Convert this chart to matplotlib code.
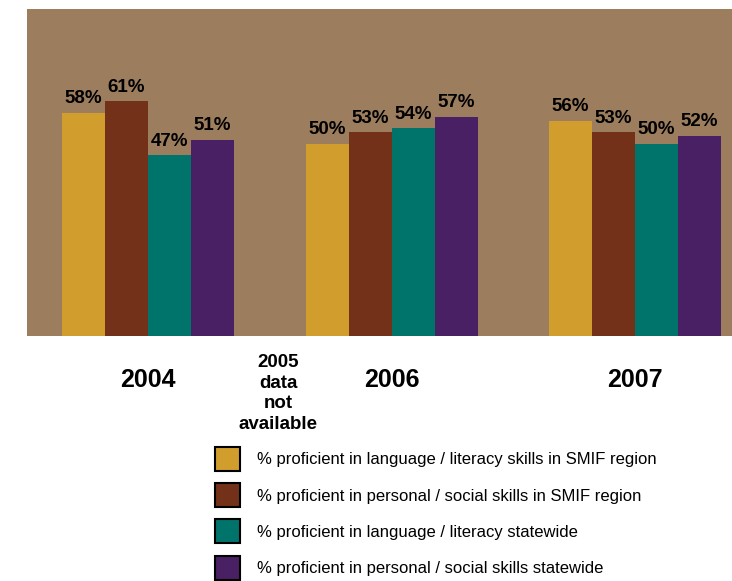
import numpy as np
import matplotlib.pyplot as plt
from matplotlib.patches import Patch

plt.rcParams['font.family'] = ['Liberation Sans', 'DejaVu Sans']

# data
years = ["2004", "2006", "2007"]
series_names = [
    "% proficient in language / literacy skills in SMIF region",
    "% proficient in personal / social skills in SMIF region",
    "% proficient in language / literacy statewide",
    "% proficient in personal / social skills statewide",
]
lang_smif = [58, 50, 56]
pers_smif = [61, 53, 53]
lang_state = [47, 54, 50]
pers_state = [51, 57, 52]
series = [lang_smif, pers_smif, lang_state, pers_state]
colors = ["#D19E2D", "#74311A", "#00736A", "#4A2064"]

fig = plt.figure(figsize=(7.32, 5.81), dpi=100)
ax = fig.add_axes([0.0369, 0.4217, 0.9631, 0.5628])
ax.set_facecolor("#9C7D5E")

x = np.arange(len(years))
w = 0.1766
for i, vals in enumerate(series):
    bars = ax.bar(x + (i - 1.5) * w, vals, width=w, color=colors[i])
    ax.bar_label(bars, labels=[f"{v}%" for v in vals], padding=4,
                 fontsize=13.5, fontweight="bold")

ax.set_xlim(-0.497, 2.398)
ax.set_ylim(0, 85)
ax.set_yticks([])
ax.set_xticks(x)
ax.set_xticklabels(years, fontsize=18, fontweight="bold")
ax.tick_params(axis="x", length=0, pad=23)
for s in ax.spines.values():
    s.set_visible(False)

ax.text(0.534, -0.176, "2005\ndata\nnot\navailable", transform=ax.get_xaxis_transform(),
        ha="center", va="center", fontsize=13.5, fontweight="bold", linespacing=1.26)

handles = [Patch(facecolor=c, edgecolor="black", linewidth=1.5) for c in colors]
fig.legend(handles, series_names, loc="upper left",
           bbox_to_anchor=(215 / 732, 1 - 447 / 581), frameon=False,
           fontsize=12, handlelength=1.5, handleheight=1.83,
           handletextpad=1.0, labelspacing=0.74, borderpad=0, borderaxespad=0)

fig.savefig("out.png", dpi=100)
